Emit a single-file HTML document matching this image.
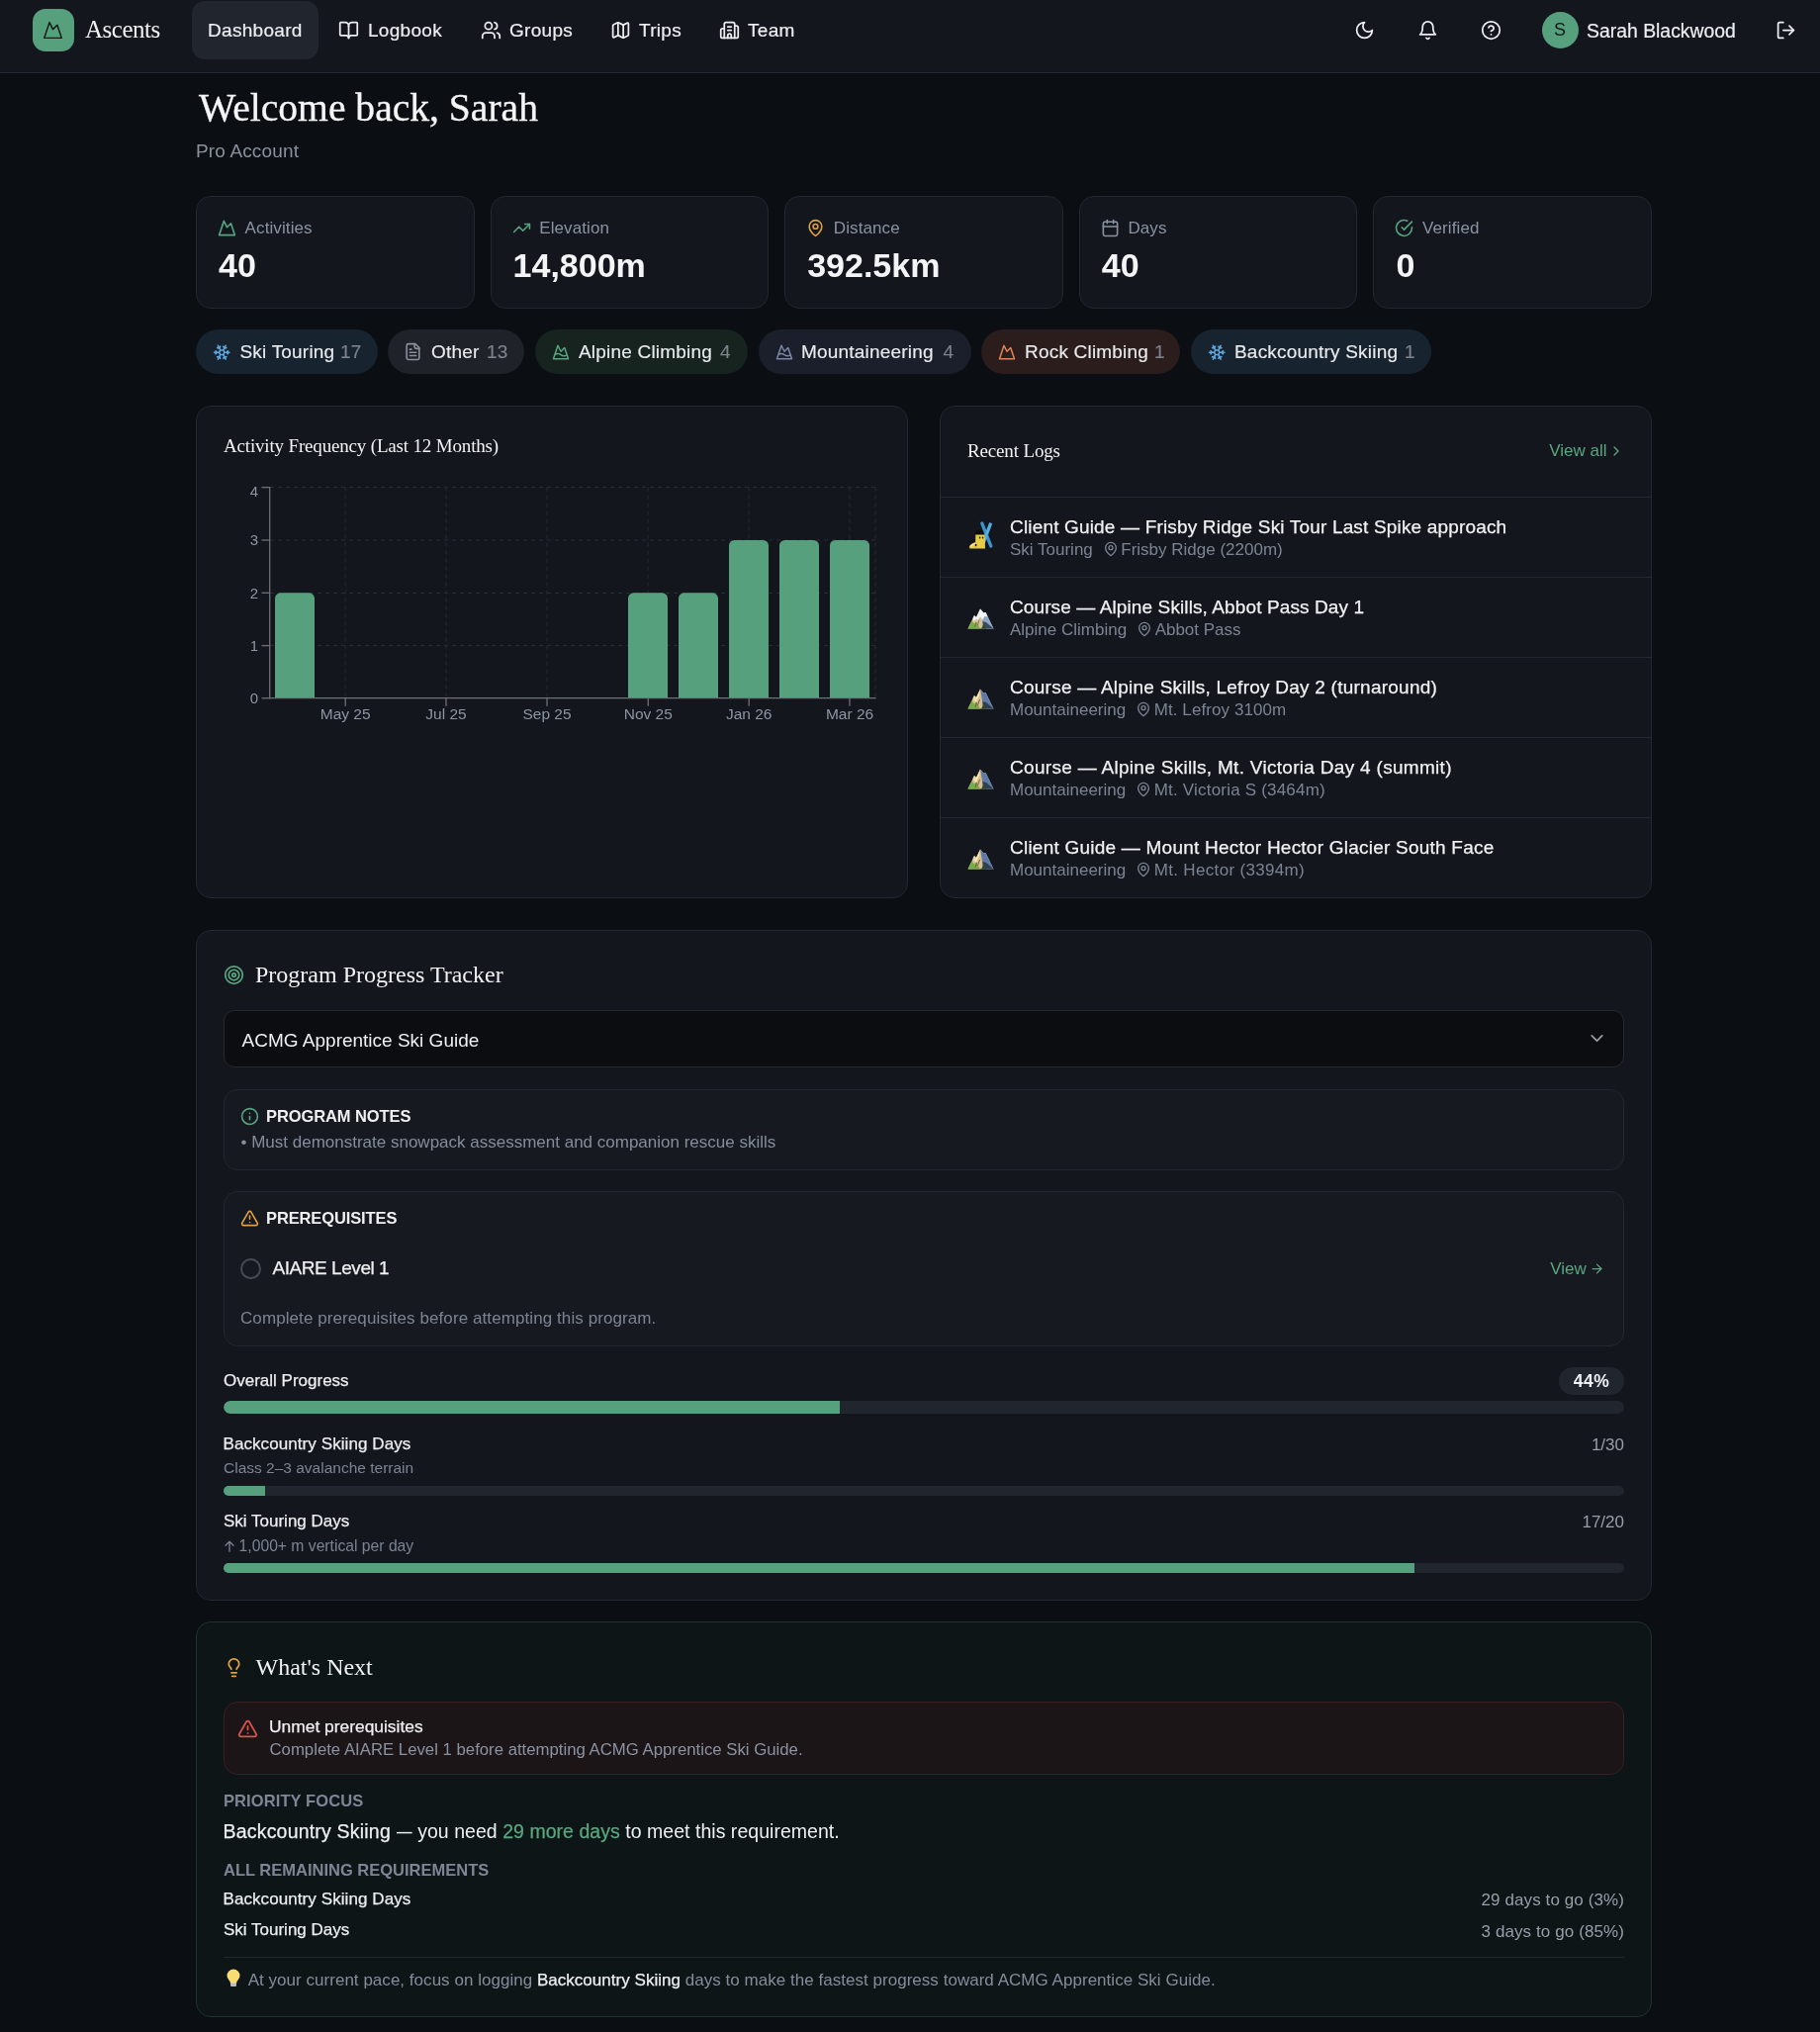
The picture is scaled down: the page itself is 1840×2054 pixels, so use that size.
<!DOCTYPE html>
<html><head><meta charset="utf-8"><style>
*{box-sizing:border-box;margin:0;padding:0}
html,body{width:1840px;height:2054px;overflow:hidden;-webkit-font-smoothing:antialiased;background:#0b0e12;font-family:"Liberation Sans",sans-serif;color:#f1f2f4}
.abs{position:absolute}
.serif{font-family:"Liberation Serif",serif}
svg.i{fill:none;stroke:currentColor;stroke-width:2;stroke-linecap:round;stroke-linejoin:round;display:block}
#nav{position:absolute;left:0;top:0;width:1840px;height:74px;background:#13161d;border-bottom:1px solid #23272f}
.nt{position:absolute;font-size:19px;line-height:22px;color:#eceef1;white-space:nowrap;letter-spacing:0.3px;top:20px!important;-webkit-text-stroke:0.2px currentColor}
.card{position:absolute;background:#13161d;border:1px solid #23272f;border-radius:15px}
.stat .lab{position:absolute;left:48.6px;top:22px;letter-spacing:0.1px;font-size:17px;line-height:20px;color:#8b93a3}
.stat svg{position:absolute;left:21px;top:22px;width:19px;height:19px}
.stat .val{position:absolute;left:22px;top:49px;font-size:34px;line-height:40px;font-weight:bold;color:#f3f4f6}
.chip{position:absolute;top:333px;height:45px;border-radius:23px;font-size:19px;line-height:45px;white-space:nowrap;color:#e9ebee;-webkit-text-stroke:0.15px currentColor;letter-spacing:0.2px}
.chip svg{position:absolute;top:14px}
.chip .c{color:#7d828d}
.m5{-webkit-text-stroke:0.25px currentColor}
</style></head><body><div id="root" style="position:absolute;left:0;top:0;width:1840px;height:2054px;will-change:transform">

<div id="nav">
  <div class="abs" style="left:33px;top:9px;width:42px;height:43px;border-radius:13px;background:#57a07e">
    <svg class="i" viewBox="0 0 24 24" width="21" height="21" style="position:absolute;left:10.2px;top:11px;color:#0f1a14;stroke-width:1.7"><path d="m8 3 4 8 5-5 5 15H2L8 3z"/></svg>
  </div>
  <div class="abs serif" style="left:86px;top:14.5px;font-size:25px;letter-spacing:-0.5px;line-height:30px;color:#f1f2f4">Ascents</div>
  <div class="abs" style="left:194px;top:1px;width:128px;height:59px;border-radius:13px;background:#21252d"></div>
  <div class="nt" style="left:210px;top:19px">Dashboard</div>
  <svg class="i abs" viewBox="0 0 24 24" width="21" height="21" style="left:342px;top:20px;color:#eceef1"><path d="M12 7v14"/><path d="M3 18a1 1 0 0 1-1-1V4a1 1 0 0 1 1-1h5a4 4 0 0 1 4 4 4 4 0 0 1 4-4h5a1 1 0 0 1 1 1v13a1 1 0 0 1-1 1h-6a3 3 0 0 0-3 3 3 3 0 0 0-3-3z"/></svg>
  <div class="nt" style="left:372px;top:19px">Logbook</div>
  <svg class="i abs" viewBox="0 0 24 24" width="21" height="21" style="left:486px;top:20px;color:#eceef1"><path d="M16 21v-2a4 4 0 0 0-4-4H6a4 4 0 0 0-4 4v2"/><circle cx="9" cy="7" r="4"/><path d="M22 21v-2a4 4 0 0 0-3-3.87"/><path d="M16 3.13a4 4 0 0 1 0 7.75"/></svg>
  <div class="nt" style="left:515px;top:19px">Groups</div>
  <svg class="i abs" viewBox="0 0 24 24" width="21" height="21" style="left:617px;top:20px;color:#eceef1"><path d="M14.106 5.553a2 2 0 0 0 1.788 0l3.659-1.83A1 1 0 0 1 21 4.619v12.764a1 1 0 0 1-.553.894l-4.553 2.277a2 2 0 0 1-1.788 0l-4.212-2.106a2 2 0 0 0-1.788 0l-3.659 1.83A1 1 0 0 1 3 19.381V6.618a1 1 0 0 1 .553-.894l4.553-2.277a2 2 0 0 1 1.788 0z"/><path d="M15 5.764v15"/><path d="M9 3.236v15"/></svg>
  <div class="nt" style="left:646px;top:19px">Trips</div>
  <svg class="i abs" viewBox="0 0 24 24" width="21" height="21" style="left:727px;top:20px;color:#eceef1"><path d="M10 12h4"/><path d="M10 8h4"/><path d="M14 21v-3a2 2 0 0 0-4 0v3"/><path d="M6 10H4a2 2 0 0 0-2 2v7a2 2 0 0 0 2 2h16a2 2 0 0 0 2-2V9a2 2 0 0 0-2-2h-2"/><path d="M6 21V5a2 2 0 0 1 2-2h8a2 2 0 0 1 2 2v16"/></svg>
  <div class="nt" style="left:756px;top:19px">Team</div>

  <svg class="i abs" viewBox="0 0 24 24" width="21" height="21" style="left:1369px;top:20px;color:#eceef1"><path d="M12 3a6 6 0 0 0 9 9 9 9 0 1 1-9-9Z"/></svg>
  <svg class="i abs" viewBox="0 0 24 24" width="21" height="21" style="left:1433px;top:20px;color:#eceef1"><path d="M6 8a6 6 0 0 1 12 0c0 7 3 9 3 9H3s3-2 3-9"/><path d="M10.3 21a1.94 1.94 0 0 0 3.4 0"/></svg>
  <svg class="i abs" viewBox="0 0 24 24" width="21" height="21" style="left:1497px;top:20px;color:#eceef1"><circle cx="12" cy="12" r="10"/><path d="M9.09 9a3 3 0 0 1 5.83 1c0 2-3 3-3 3"/><path d="M12 17h.01"/></svg>
  <div class="abs" style="left:1558.5px;top:12px;width:37px;height:37px;border-radius:50%;background:#57a07e;color:#0f1a14;font-size:18px;line-height:37px;text-align:center">S</div>
  <div class="nt" style="left:1604px;top:19px;font-size:19.4px;letter-spacing:0">Sarah Blackwood</div>
  <svg class="i abs" viewBox="0 0 24 24" width="21" height="21" style="left:1795px;top:20px;color:#eceef1"><path d="M9 21H5a2 2 0 0 1-2-2V5a2 2 0 0 1 2-2h4"/><polyline points="16 17 21 12 16 7"/><line x1="21" x2="9" y1="12" y2="12"/></svg>
</div>

<!-- header -->
<div class="abs serif" style="left:201px;top:86px;font-size:39.6px;line-height:46px;color:#f4f5f7;-webkit-text-stroke:0.35px currentColor">Welcome back, Sarah</div>
<div class="abs" style="left:198px;top:142px;font-size:19px;line-height:22px;color:#8a919e;letter-spacing:0.15px">Pro Account</div>

<!-- stat cards -->
<div class="card stat" style="left:198px;top:198px;width:281.6px;height:114px">
  <svg class="i" viewBox="0 0 24 24" width="18" height="18" style="color:#57a57f"><path d="m8 3 4 8 5-5 5 15H2L8 3z"/></svg>
  <div class="lab">Activities</div><div class="val">40</div>
</div>
<div class="card stat" style="left:495.6px;top:198px;width:281.6px;height:114px">
  <svg class="i" viewBox="0 0 24 24" width="18" height="18" style="color:#57a57f"><polyline points="22 7 13.5 15.5 8.5 10.5 2 17"/><polyline points="16 7 22 7 22 13"/></svg>
  <div class="lab">Elevation</div><div class="val">14,800m</div>
</div>
<div class="card stat" style="left:793.2px;top:198px;width:281.6px;height:114px">
  <svg class="i" viewBox="0 0 24 24" width="18" height="18" style="color:#e0a042"><path d="M20 10c0 6-8 12-8 12s-8-6-8-12a8 8 0 0 1 16 0Z"/><circle cx="12" cy="10" r="3"/></svg>
  <div class="lab">Distance</div><div class="val">392.5km</div>
</div>
<div class="card stat" style="left:1090.8px;top:198px;width:281.6px;height:114px">
  <svg class="i" viewBox="0 0 24 24" width="18" height="18" style="color:#8b93a3"><rect width="18" height="18" x="3" y="4" rx="2" ry="2"/><line x1="16" x2="16" y1="2" y2="6"/><line x1="8" x2="8" y1="2" y2="6"/><line x1="3" x2="21" y1="10" y2="10"/></svg>
  <div class="lab">Days</div><div class="val">40</div>
</div>
<div class="card stat" style="left:1388.4px;top:198px;width:281.6px;height:114px">
  <svg class="i" viewBox="0 0 24 24" width="18" height="18" style="color:#57a57f"><path d="M22 11.08V12a10 10 0 1 1-5.93-9.14"/><polyline points="22 4 12 14.01 9 11.01"/></svg>
  <div class="lab">Verified</div><div class="val">0</div>
</div>

<!-- CHIPS -->
<div class="chip" style="left:198px;width:184px;background:#17232f"><svg class="i" viewBox="0 0 24 24" width="18.5" height="18.5" style="left:16.5px;color:#5fa8df"><path d="m10 20-1.25-2.5L6 18"/><path d="M10 4 8.75 6.5 6 6"/><path d="m14 20 1.25-2.5L18 18"/><path d="m14 4 1.25 2.5L18 6"/><path d="m17 21-3-6h-4"/><path d="m17 3-3 6 1.5 3"/><path d="M2 12h6.5L10 9"/><path d="m20 10-1.5 2 1.5 2"/><path d="M22 12h-6.5L14 15"/><path d="m4 10 1.5 2L4 14"/><path d="m7 21 3-6-1.5-3"/><path d="m7 3 3 6h4"/></svg><span class="abs" style="left:44.5px">Ski Touring</span><span class="abs c" style="left:146px">17</span></div>
<div class="chip" style="left:392px;width:138px;background:#1f2229"><svg class="i" viewBox="0 0 24 24" width="19" height="19" style="left:16px;top:13px;color:#8a909b"><path d="M15 2H6a2 2 0 0 0-2 2v16a2 2 0 0 0 2 2h12a2 2 0 0 0 2-2V7Z"/><path d="M14 2v4a2 2 0 0 0 2 2h4"/><path d="M10 9H8"/><path d="M16 13H8"/><path d="M16 17H8"/></svg><span class="abs" style="left:44px">Other</span><span class="abs c" style="left:100px">13</span></div>
<div class="chip" style="left:541px;width:215px;background:#17231f"><svg class="i" viewBox="0 0 24 24" width="18" height="18" style="left:17px;color:#57a57f"><path d="m8 3 4 8 5-5 5 15H2L8 3z"/><path d="M4.14 15.08c2.62-1.57 5.24-1.43 7.86.42 2.74 1.94 5.49 2 8.23.19"/></svg><span class="abs" style="left:44px">Alpine Climbing</span><span class="abs c" style="left:187px">4</span></div>
<div class="chip" style="left:767px;width:215px;background:#1b1f2b"><svg class="i" viewBox="0 0 24 24" width="18" height="18" style="left:17px;color:#7c86a6"><path d="m8 3 4 8 5-5 5 15H2L8 3z"/><path d="M4.14 15.08c2.62-1.57 5.24-1.43 7.86.42 2.74 1.94 5.49 2 8.23.19"/></svg><span class="abs" style="left:43px">Mountaineering</span><span class="abs c" style="left:186.5px">4</span></div>
<div class="chip" style="left:992px;width:201px;background:#2a1d1b"><svg class="i" viewBox="0 0 24 24" width="18" height="18" style="left:17px;color:#e0845a"><path d="m8 3 4 8 5-5 5 15H2L8 3z"/></svg><span class="abs" style="left:44px">Rock Climbing</span><span class="abs c" style="left:175px">1</span></div>
<div class="chip" style="left:1204px;width:243px;background:#17232f"><svg class="i" viewBox="0 0 24 24" width="18.5" height="18.5" style="left:16.5px;color:#5fa8df"><path d="m10 20-1.25-2.5L6 18"/><path d="M10 4 8.75 6.5 6 6"/><path d="m14 20 1.25-2.5L18 18"/><path d="m14 4 1.25 2.5L18 6"/><path d="m17 21-3-6h-4"/><path d="m17 3-3 6 1.5 3"/><path d="M2 12h6.5L10 9"/><path d="m20 10-1.5 2 1.5 2"/><path d="M22 12h-6.5L14 15"/><path d="m4 10 1.5 2L4 14"/><path d="m7 21 3-6-1.5-3"/><path d="m7 3 3 6h4"/></svg><span class="abs" style="left:44px">Backcountry Skiing</span><span class="abs c" style="left:216px">1</span></div>

<!-- CHART -->
<div class="card" style="left:198px;top:410px;width:720px;height:498px"></div>
<div class="abs serif" style="left:226px;top:439px;font-size:19px;letter-spacing:-0.17px;line-height:24px;color:#f1f2f4">Activity Frequency (Last 12 Months)</div>
<svg class="abs" style="left:240px;top:480px" width="660" height="260" viewBox="240 480 660 260">
  <g stroke="#272b34" stroke-width="1" stroke-dasharray="4 4" fill="none">
    <line x1="273" y1="492.5" x2="885" y2="492.5"/><line x1="273" y1="546" x2="885" y2="546"/><line x1="273" y1="599.5" x2="885" y2="599.5"/><line x1="273" y1="652.5" x2="885" y2="652.5"/>
    <line x1="349.2" y1="492.5" x2="349.2" y2="706"/><line x1="451.1" y1="492.5" x2="451.1" y2="706"/><line x1="553" y1="492.5" x2="553" y2="706"/><line x1="655.1" y1="492.5" x2="655.1" y2="706"/><line x1="757.1" y1="492.5" x2="757.1" y2="706"/><line x1="859" y1="492.5" x2="859" y2="706"/><line x1="885" y1="492.5" x2="885" y2="706"/>
  </g>
  <g fill="#57a07e"><path d="M278 706V604.8a5.5 5.5 0 0 1 5.5-5.5h29.0a5.5 5.5 0 0 1 5.5 5.5V706z"/><path d="M635 706V604.8a5.5 5.5 0 0 1 5.5-5.5h29.0a5.5 5.5 0 0 1 5.5 5.5V706z"/><path d="M686 706V604.8a5.5 5.5 0 0 1 5.5-5.5h29.0a5.5 5.5 0 0 1 5.5 5.5V706z"/><path d="M737 706V551.5a5.5 5.5 0 0 1 5.5-5.5h29.0a5.5 5.5 0 0 1 5.5 5.5V706z"/><path d="M788 706V551.5a5.5 5.5 0 0 1 5.5-5.5h29.0a5.5 5.5 0 0 1 5.5 5.5V706z"/><path d="M839 706V551.5a5.5 5.5 0 0 1 5.5-5.5h29.0a5.5 5.5 0 0 1 5.5 5.5V706z"/></g>
  <g stroke="#6e7075" stroke-width="1.3" fill="none">
    <line x1="272.7" y1="492" x2="272.7" y2="706.3"/><line x1="272" y1="705.7" x2="885.5" y2="705.7"/>
    <line x1="264.5" y1="492.6" x2="272.7" y2="492.6"/><line x1="264.5" y1="546" x2="272.7" y2="546"/><line x1="264.5" y1="599.3" x2="272.7" y2="599.3"/><line x1="264.5" y1="652.6" x2="272.7" y2="652.6"/><line x1="264.5" y1="705.7" x2="272.7" y2="705.7"/>
    <line x1="349.2" y1="705.7" x2="349.2" y2="713.7"/><line x1="451" y1="705.7" x2="451" y2="713.7"/><line x1="553" y1="705.7" x2="553" y2="713.7"/><line x1="655.3" y1="705.7" x2="655.3" y2="713.7"/><line x1="757.2" y1="705.7" x2="757.2" y2="713.7"/><line x1="859" y1="705.7" x2="859" y2="713.7"/>
  </g>
  <g fill="#8d94a3" font-family="Liberation Sans" font-size="15" text-anchor="end">
    <text x="261" y="502">4</text><text x="261" y="551.3">3</text><text x="261" y="604.7">2</text><text x="261" y="658">1</text><text x="261" y="711">0</text>
  </g>
  <g fill="#8d94a3" font-family="Liberation Sans" font-size="15.5" text-anchor="middle">
    <text x="349.2" y="726.8">May 25</text><text x="451" y="726.8">Jul 25</text><text x="553" y="726.8">Sep 25</text><text x="655.3" y="726.8">Nov 25</text><text x="757.2" y="726.8">Jan 26</text><text x="859" y="726.8">Mar 26</text>
  </g>
</svg>

<!-- LOGS -->
<div class="card" style="left:950px;top:410px;width:720px;height:498px;overflow:hidden">
  <div class="abs serif" style="left:27px;top:33px;font-size:19px;letter-spacing:-0.15px;line-height:24px;color:#f1f2f4">Recent Logs</div>
  <div class="abs" style="left:615.3px;top:33.2px;font-size:17px;line-height:24px;color:#5aa67f;white-space:nowrap">View all</div><svg class="i abs" viewBox="0 0 24 24" width="16" height="16" style="left:674.6px;top:36.5px;color:#5aa67f"><path d="m9 18 6-6-6-6"/></svg>
  <div class="abs" style="left:0;top:91px;width:718px;height:1px;background:#23272f"></div>
  <div class="abs" style="left:0;top:92px;width:718px;height:81px;border-bottom:1px solid #23272f;"><svg class="abs" style="left:27px;top:23px" width="27" height="31" viewBox="0 0 27 31"><g stroke-linecap="round"><line x1="14.8" y1="3" x2="23.8" y2="26" stroke="#3f94c9" stroke-width="3.4"/><line x1="23.2" y1="4" x2="16.5" y2="22" stroke="#52aee0" stroke-width="3.4"/></g><path d="M8.5 10.5 Q11 9 15.5 11 L15.8 15 L8.5 15 Z" fill="#0e0e0e"/><path d="M8.3 14.6 L17.6 14.6 L18 28.6 L4 28.6 Q1.6 28.6 2.1 26.4 Q2.8 24 8.2 22 Z" fill="#e6cd48"/><path d="M3 26.5 Q5 24.6 8.5 23.5" stroke="#f4e58c" stroke-width="1.5" fill="none"/><ellipse cx="12.6" cy="17.6" rx="0.8" ry="1" fill="#111"/><ellipse cx="15.6" cy="17.6" rx="0.8" ry="1" fill="#111"/><ellipse cx="8.6" cy="25" rx="0.9" ry="1.2" fill="#111"/></svg><div class="abs m5" style="left:70px;top:18px;font-size:19px;line-height:24px;color:#f1f2f4;white-space:nowrap;letter-spacing:0.17px">Client Guide — Frisby Ridge Ski Tour Last Spike approach</div><div class="abs" style="left:70px;top:42px;font-size:17px;line-height:22px;color:#7c8494;white-space:nowrap">Ski Touring<svg class="i" viewBox="0 0 24 24" width="16" height="16" style="display:inline-block;vertical-align:-2px;margin-left:10px;margin-right:2.5px"><path d="M20 10c0 6-8 12-8 12s-8-6-8-12a8 8 0 0 1 16 0Z"/><circle cx="12" cy="10" r="3"/></svg>Frisby Ridge (2200m)</div></div>
  <div class="abs" style="left:0;top:173px;width:718px;height:81px;border-bottom:1px solid #23272f;"><svg class="abs" style="left:27px;top:30px" width="28" height="23" viewBox="0 0 28 23"><path d="M0.5 21.5 L7 8 L9 10 L13 1.5 L16.5 5.5 L18.5 5 L26.5 21.5 Z" fill="#d9c196"/><path d="M13 1.5 L16.5 5.5 L18.5 5 L26.5 21.5 L16 21.5 L15 12 Z" fill="#8ea6c8"/><path d="M15.5 14 L19 15 L26.5 21.5 L16 21.5 Z" fill="#3b4c5e"/><path d="M7 8 L9 10 L13 1.5 L16.5 5.5 L18.5 5 L20.5 9.5 L17.5 9 L15.5 12.5 L13 9.5 L10.5 13 L9 11.5 L6.5 14 L5.5 11 Z" fill="#f0f2f3"/><path d="M0.5 21.5 L4.5 13.5 L7 16.5 L9 14.5 L13 21.5 Z" fill="#78ad4c"/><path d="M14 21.5 L16.5 17 L19 21.5 Z" fill="#2e4a30"/><path d="M9 15 L7.5 20 M12 12.5 L10.5 18" stroke="#6b5a40" stroke-width="0.8"/></svg><div class="abs m5" style="left:70px;top:18px;font-size:19px;line-height:24px;color:#f1f2f4;white-space:nowrap;letter-spacing:0.11px">Course — Alpine Skills, Abbot Pass Day 1</div><div class="abs" style="left:70px;top:42px;font-size:17px;line-height:22px;color:#7c8494;white-space:nowrap">Alpine Climbing<svg class="i" viewBox="0 0 24 24" width="16" height="16" style="display:inline-block;vertical-align:-2px;margin-left:10px;margin-right:2.5px"><path d="M20 10c0 6-8 12-8 12s-8-6-8-12a8 8 0 0 1 16 0Z"/><circle cx="12" cy="10" r="3"/></svg>Abbot Pass</div></div>
  <div class="abs" style="left:0;top:254px;width:718px;height:81px;border-bottom:1px solid #23272f;"><svg class="abs" style="left:27px;top:30px" width="28" height="23" viewBox="0 0 28 23"><path d="M0.5 21.5 L7 8 L9 10 L13 1.5 L16.5 5.5 L18.5 5 L26.5 21.5 Z" fill="#dcbd8c"/><path d="M13 1.5 L16.5 5.5 L18.5 5 L26.5 21.5 L16 21.5 L14.5 10 Z" fill="#5f7aa6"/><path d="M15.5 14 L19 15 L26.5 21.5 L16 21.5 Z" fill="#2f4150"/><path d="M6.5 12 L9 10 L13 1.5 L12 8 L8.5 15 Z" fill="#f6ecb4"/><path d="M7 8 L9 10 L7.5 14 L5.5 11 Z" fill="#e8dcaf"/><path d="M0.5 21.5 L4.5 13.5 L7 16.5 L9 14.5 L13 21.5 Z" fill="#78ad4c"/><path d="M14 21.5 L16.5 17 L19 21.5 Z" fill="#2e4a30"/><path d="M9.5 15 L8 20 M12.5 12 L10.5 18" stroke="#6b5a40" stroke-width="0.9"/></svg><div class="abs m5" style="left:70px;top:18px;font-size:19px;line-height:24px;color:#f1f2f4;white-space:nowrap;letter-spacing:0.24px">Course — Alpine Skills, Lefroy Day 2 (turnaround)</div><div class="abs" style="left:70px;top:42px;font-size:17px;line-height:22px;color:#7c8494;white-space:nowrap">Mountaineering<svg class="i" viewBox="0 0 24 24" width="16" height="16" style="display:inline-block;vertical-align:-2px;margin-left:10px;margin-right:2.5px"><path d="M20 10c0 6-8 12-8 12s-8-6-8-12a8 8 0 0 1 16 0Z"/><circle cx="12" cy="10" r="3"/></svg><span style="letter-spacing:0.08px">Mt. Lefroy 3100m</span></div></div>
  <div class="abs" style="left:0;top:335px;width:718px;height:81px;border-bottom:1px solid #23272f;"><svg class="abs" style="left:27px;top:30px" width="28" height="23" viewBox="0 0 28 23"><path d="M0.5 21.5 L7 8 L9 10 L13 1.5 L16.5 5.5 L18.5 5 L26.5 21.5 Z" fill="#dcbd8c"/><path d="M13 1.5 L16.5 5.5 L18.5 5 L26.5 21.5 L16 21.5 L14.5 10 Z" fill="#5f7aa6"/><path d="M15.5 14 L19 15 L26.5 21.5 L16 21.5 Z" fill="#2f4150"/><path d="M6.5 12 L9 10 L13 1.5 L12 8 L8.5 15 Z" fill="#f6ecb4"/><path d="M7 8 L9 10 L7.5 14 L5.5 11 Z" fill="#e8dcaf"/><path d="M0.5 21.5 L4.5 13.5 L7 16.5 L9 14.5 L13 21.5 Z" fill="#78ad4c"/><path d="M14 21.5 L16.5 17 L19 21.5 Z" fill="#2e4a30"/><path d="M9.5 15 L8 20 M12.5 12 L10.5 18" stroke="#6b5a40" stroke-width="0.9"/></svg><div class="abs m5" style="left:70px;top:18px;font-size:19px;line-height:24px;color:#f1f2f4;white-space:nowrap;letter-spacing:0.3px">Course — Alpine Skills, Mt. Victoria Day 4 (summit)</div><div class="abs" style="left:70px;top:42px;font-size:17px;line-height:22px;color:#7c8494;white-space:nowrap">Mountaineering<svg class="i" viewBox="0 0 24 24" width="16" height="16" style="display:inline-block;vertical-align:-2px;margin-left:10px;margin-right:2.5px"><path d="M20 10c0 6-8 12-8 12s-8-6-8-12a8 8 0 0 1 16 0Z"/><circle cx="12" cy="10" r="3"/></svg><span style="letter-spacing:0.2px">Mt. Victoria S (3464m)</span></div></div>
  <div class="abs" style="left:0;top:416px;width:718px;height:81px;"><svg class="abs" style="left:27px;top:30px" width="28" height="23" viewBox="0 0 28 23"><path d="M0.5 21.5 L7 8 L9 10 L13 1.5 L16.5 5.5 L18.5 5 L26.5 21.5 Z" fill="#dcbd8c"/><path d="M13 1.5 L16.5 5.5 L18.5 5 L26.5 21.5 L16 21.5 L14.5 10 Z" fill="#5f7aa6"/><path d="M15.5 14 L19 15 L26.5 21.5 L16 21.5 Z" fill="#2f4150"/><path d="M6.5 12 L9 10 L13 1.5 L12 8 L8.5 15 Z" fill="#f6ecb4"/><path d="M7 8 L9 10 L7.5 14 L5.5 11 Z" fill="#e8dcaf"/><path d="M0.5 21.5 L4.5 13.5 L7 16.5 L9 14.5 L13 21.5 Z" fill="#78ad4c"/><path d="M14 21.5 L16.5 17 L19 21.5 Z" fill="#2e4a30"/><path d="M9.5 15 L8 20 M12.5 12 L10.5 18" stroke="#6b5a40" stroke-width="0.9"/></svg><div class="abs m5" style="left:70px;top:18px;font-size:19px;line-height:24px;color:#f1f2f4;white-space:nowrap;letter-spacing:0.23px">Client Guide — Mount Hector Hector Glacier South Face</div><div class="abs" style="left:70px;top:42px;font-size:17px;line-height:22px;color:#7c8494;white-space:nowrap">Mountaineering<svg class="i" viewBox="0 0 24 24" width="16" height="16" style="display:inline-block;vertical-align:-2px;margin-left:10px;margin-right:2.5px"><path d="M20 10c0 6-8 12-8 12s-8-6-8-12a8 8 0 0 1 16 0Z"/><circle cx="12" cy="10" r="3"/></svg><span style="letter-spacing:0.33px">Mt. Hector (3394m)</span></div></div>
</div>
<!-- TRACKER -->
<div class="card" style="left:198px;top:940px;width:1472px;height:678px"></div>
<svg class="i abs" viewBox="0 0 24 24" width="21" height="21" style="left:226px;top:975px;color:#57a57f"><circle cx="12" cy="12" r="10"/><circle cx="12" cy="12" r="6"/><circle cx="12" cy="12" r="2"/></svg>
<div class="abs serif" style="left:258px;top:970px;font-size:24px;line-height:30px;color:#f1f2f4">Program Progress Tracker</div>
<div class="abs" style="left:226px;top:1021px;width:1416px;height:58px;border-radius:11px;background:#0b0d11;border:1px solid #252930"></div>
<div class="abs" style="left:244.6px;top:1040.5px;font-size:19px;line-height:22px;color:#eef0f2">ACMG Apprentice Ski Guide</div>
<svg class="i abs" viewBox="0 0 24 24" width="21" height="21" style="left:1604px;top:1039px;color:#9a9ea6"><path d="m6 9 6 6 6-6"/></svg>

<div class="abs" style="left:226px;top:1101px;width:1416px;height:82px;border-radius:14px;background:#161920;border:1px solid #23272f"></div>
<svg class="i abs" viewBox="0 0 24 24" width="19" height="19" style="left:243px;top:1119px;color:#57a57f"><circle cx="12" cy="12" r="10"/><path d="M12 16v-4"/><path d="M12 8h.01"/></svg>
<div class="abs" style="left:269px;top:1118px;font-size:16.5px;line-height:20px;font-weight:bold;color:#eef0f2;letter-spacing:-0.1px">PROGRAM NOTES</div>
<div class="abs" style="left:243.5px;top:1145px;font-size:17px;line-height:20px;color:#858d9c">• Must demonstrate snowpack assessment and companion rescue skills</div>

<div class="abs" style="left:226px;top:1204px;width:1416px;height:157px;border-radius:14px;background:#161920;border:1px solid #23272f"></div>
<svg class="i abs" viewBox="0 0 24 24" width="19" height="19" style="left:242.5px;top:1221.5px;color:#e0a042"><path d="m21.73 18-8-14a2 2 0 0 0-3.48 0l-8 14A2 2 0 0 0 4 21h16a2 2 0 0 0 1.73-3"/><path d="M12 9v4"/><path d="M12 17h.01"/></svg>
<div class="abs" style="left:269px;top:1221px;font-size:16.5px;line-height:20px;font-weight:bold;color:#eef0f2;letter-spacing:-0.12px">PREREQUISITES</div>
<div class="abs" style="left:243px;top:1272px;width:21px;height:21px;border-radius:50%;border:2px solid #454a54"></div>
<div class="abs m5" style="left:275.5px;top:1271px;font-size:19px;line-height:22px;color:#eef0f2;letter-spacing:-0.45px">AIARE Level 1</div>
<div class="abs" style="left:1567.3px;top:1273px;font-size:17px;line-height:20px;color:#5aa67f;white-space:nowrap">View<svg class="i" viewBox="0 0 24 24" width="15" height="15" style="display:inline-block;vertical-align:-2px;margin-left:3px"><path d="M5 12h14"/><path d="m12 5 7 7-7 7"/></svg></div>
<div class="abs" style="left:243px;top:1323px;font-size:17px;line-height:20px;color:#7c8494;letter-spacing:0.085px">Complete prerequisites before attempting this program.</div>

<div class="abs m5" style="left:226px;top:1385.7px;font-size:17px;line-height:20px;color:#eceef1">Overall Progress</div>
<div class="abs" style="left:1576px;top:1382px;width:66px;height:28px;border-radius:14px;background:#21252d"></div>
<div class="abs" style="left:1576px;top:1386px;width:66px;text-align:center;font-size:17.5px;line-height:20px;font-weight:bold;color:#eef0f2;letter-spacing:0.5px">44%</div>
<div class="abs" style="left:226px;top:1416px;width:1416px;height:13px;border-radius:7px;background:#21252d;overflow:hidden"><div style="width:623px;height:100%;background:#57a07e;border-radius:7px 0 0 7px"></div></div>

<div class="abs m5" style="left:225.5px;top:1450.3px;font-size:17px;line-height:20px;color:#eceef1;letter-spacing:0.08px">Backcountry Skiing Days</div>
<div class="abs" style="left:226px;top:1475px;font-size:15.5px;line-height:18px;color:#7c8494">Class 2–3 avalanche terrain</div>
<div class="abs" style="left:1542px;top:1451px;width:100px;text-align:right;font-size:17px;line-height:20px;color:#989eaa">1/30</div>
<div class="abs" style="left:226px;top:1502px;width:1416px;height:10px;border-radius:5px;background:#21252d;overflow:hidden"><div style="width:42px;height:100%;background:#57a07e"></div></div>

<div class="abs m5" style="left:226px;top:1528px;font-size:17px;line-height:20px;color:#eceef1">Ski Touring Days</div>
<svg class="abs" style="left:226.5px;top:1556.5px" width="10" height="12" viewBox="0 0 10 12" fill="none" stroke="#7c8494" stroke-width="1.3" stroke-linecap="round" stroke-linejoin="round"><path d="M5 11.2V1.2M1 5.2l4-4 4 4"/></svg><div class="abs" style="left:241.6px;top:1553.8px;font-size:15.7px;line-height:18px;color:#7c8494">1,000+ m vertical per day</div>
<div class="abs" style="left:1542px;top:1529px;width:100px;text-align:right;font-size:17px;line-height:20px;color:#989eaa">17/20</div>
<div class="abs" style="left:226px;top:1580px;width:1416px;height:10px;border-radius:5px;background:#21252d;overflow:hidden"><div style="width:1204px;height:100%;background:#57a07e"></div></div>

<!-- NEXT -->
<div class="abs" style="left:198px;top:1639px;width:1472px;height:400px;border-radius:15px;background:#0d1517;border:1px solid #1d342c"></div>
<svg class="i abs" viewBox="0 0 24 24" width="21" height="21" style="left:225.5px;top:1675px;color:#e0a042"><path d="M15 14c.2-1 .7-1.7 1.5-2.5 1-.9 1.5-2.2 1.5-3.5A6 6 0 0 0 6 8c0 1 .2 2.2 1.5 3.5.7.7 1.3 1.5 1.5 2.5"/><path d="M9 18h6"/><path d="M10 22h4"/></svg>
<div class="abs serif" style="left:258.5px;top:1670px;font-size:24px;line-height:30px;color:#f1f2f4">What's Next</div>
<div class="abs" style="left:226px;top:1720px;width:1416px;height:74px;border-radius:14px;background:#1b1517;border:1px solid #3a1f22"></div>
<svg class="i abs" viewBox="0 0 24 24" width="21" height="21" style="left:239.5px;top:1736.5px;color:#d9534f"><path d="m21.73 18-8-14a2 2 0 0 0-3.48 0l-8 14A2 2 0 0 0 4 21h16a2 2 0 0 0 1.73-3"/><path d="M12 9v4"/><path d="M12 17h.01"/></svg>
<div class="abs m5" style="left:272px;top:1735px;font-size:17.4px;line-height:20px;color:#eef0f2">Unmet prerequisites</div>
<div class="abs" style="left:272.5px;top:1759.3px;font-size:16.75px;line-height:20px;color:#8b93a3">Complete AIARE Level 1 before attempting ACMG Apprentice Ski Guide.</div>
<div class="abs" style="left:226px;top:1810px;font-size:16.5px;line-height:20px;font-weight:bold;color:#7e8696;letter-spacing:0.1px">PRIORITY FOCUS</div>
<div class="abs" style="left:225.5px;top:1839.5px;font-size:19.5px;line-height:22px;color:#eef0f2;white-space:nowrap;letter-spacing:0.035px"><span class="m5" style="letter-spacing:0.2px">Backcountry Skiing</span> <span style="display:inline-block;transform:scaleX(0.8);transform-origin:center;margin:0 -1.6px">—</span> you need <span class="m5" style="color:#5aa67f">29 more days</span> to meet this requirement.</div>
<div class="abs" style="left:226px;top:1880px;font-size:16.5px;line-height:20px;font-weight:bold;color:#7e8696;letter-spacing:0px">ALL REMAINING REQUIREMENTS</div>
<div class="abs m5" style="left:225.5px;top:1910px;font-size:17px;line-height:20px;color:#eceef1;letter-spacing:0.08px">Backcountry Skiing Days</div>
<div class="abs" style="left:1442px;top:1910.5px;width:200px;text-align:right;font-size:17px;line-height:20px;color:#989eaa;letter-spacing:0.1px">29 days to go (3%)</div>
<div class="abs m5" style="left:226px;top:1941.3px;font-size:17px;line-height:20px;color:#eceef1">Ski Touring Days</div>
<div class="abs" style="left:1442px;top:1942.5px;width:200px;text-align:right;font-size:17px;line-height:20px;color:#989eaa;letter-spacing:0.1px">3 days to go (85%)</div>
<div class="abs" style="left:226px;top:1978px;width:1416px;height:1px;background:#1f2a2a"></div>
<svg class="abs" style="left:228px;top:1990px" width="16" height="20" viewBox="0 0 16 20"><ellipse cx="8" cy="7" rx="6.5" ry="6.5" fill="#f7dd72"/><path d="M4 11h8l-1 4H5z" fill="#f7dd72"/><rect x="5" y="14.5" width="6" height="3.5" rx="1" fill="#b9bcc2"/></svg>
<div class="abs" style="left:250.7px;top:1992px;font-size:17px;line-height:20px;color:#858d9c;white-space:nowrap;letter-spacing:0.03px">At your current pace, focus on logging <span class="m5" style="color:#eef0f2">Backcountry Skiing</span> days to make the fastest progress toward ACMG Apprentice Ski Guide.</div>
</div></body></html>
